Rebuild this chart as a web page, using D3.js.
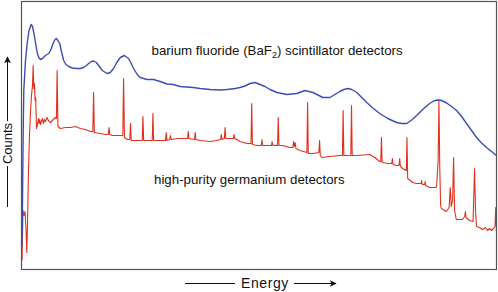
<!DOCTYPE html>
<html><head><meta charset="utf-8">
<script src="https://cdn.jsdelivr.net/npm/d3@7"></script>
<style>body{margin:0;background:#fff}svg{display:block}text{font-family:"Liberation Sans",Arial,Helvetica,sans-serif;fill:#111}</style>
</head><body><svg id="c" width="498" height="292"></svg>
<script>
// BaF2 scintillator spectrum (arbitrary energy channel, counts)
const blueEnergy = [0.5,1,1.7,2.3,4,5.7,7.5,9.7,11,12.3,14,15.7,17.3,19,21,24,27.3,29.5,31.7,33.5,35,36.5,38.3,40,42.3,44.5,47.3,51,55.7,59,62.3,65,67.3,70,72.3,75,77.3,81,85.7,89,92.3,95.5,99,103,107.3,110,112.3,116,119,125.7,132.3,139,145.7,152,159,172,179,189,199,206,214,219,224,229,234,239,244,249,256,266,276,280,284,288,292,297,302,309,314,319,323,327,331,336,341,346,352,359,367,376,381,386,391,396,402,409,413,417,421,426,431,436,441,446,451,456,461,466,471,476];
const blueCounts = [24,69,139,179,209,226,239,245,243,237,227,217,212,210,211,214,216,220,226,230,231,229,226,218,209,205,203,201.5,201,201,202,204,206,208,208.5,207,204,199,196,197,201,207,212,214,211,206,201,195,192,190,190,188,185.5,185,183,182,181,180,179.5,180,181,182,183.5,186,187,185,183,180,177,175,176,177.5,179,178,177,174.5,172,172,175,178,180,181,180,177,172,167,161.5,156,151,147,146,146,149.5,154,160,166,168.5,169.5,169,166.5,163,159,153,146,139,132,126.5,122,118,114];

// High-purity germanium spectrum
const redEnergy = [0.5,1.5,2.5,3.5,4.5,5.3,6,7,8,9,10,11,11.7,12.3,13,13.6,14.2,15,16,17,17.6,18.3,19,20,21,22,23,24,25.5,27,29,31,34,35,35.7,36.5,39,44,49,54,59,64,69,71.5,72.2,73,79,84,87,87.7,88.4,91,97,101.5,102.3,103.2,106,108.5,109.2,110,116,121,121.7,122.4,127,131,131.7,132.4,139,144.3,145,145.7,148.5,149.2,150,157,162,166.4,167.1,167.8,173.4,174.1,174.8,179,189,195,199.5,200.2,201,203.3,204,204.7,209,212.3,213,213.7,219,226,230,230.7,231.4,236,240.3,241,241.7,249,250.5,251.1,251.8,256.6,257.3,258,262,269,272,272.6,273.3,274.2,275,279,286,286.7,287.4,292,298,298.7,299.4,301,309,319,321.6,322.3,323,330,330.7,331.4,336,349,354,359,360,360.7,361.4,367,371,371.7,372.4,376,378.3,379,379.7,382,385.6,386.3,387,392,396,400.5,401,401.6,404,404.5,405,409,415,416,417.5,418.3,419.2,420,420.7,425.7,428.5,429.7,430.7,432,433,434,435.7,442,444.2,444.8,445.5,449,452.5,454,455,456,459,462,465,467,469,471,473,474.5,475.2,476];
const redCounts = [9,59,54,58,41,17,44,99,134,157,174,184,204,181,186,169,172,141,145,151,146,150,145,148,151,146,150,148,152,149,147,149,152,151,199,143,141,142,142,143,141,140,138,138,177,137,136,135,135,142,135,134,134,134,191,132,130,130,146,129,129,129,153,129,129,129,156,129,129,129,137,129,130,134,130,131,131,131,138,131,130,137,130,129,128,129,130,135,130,131,142,131,131,131,135,131,128,126,126,166,125,124,124,130,124,124,124,128,124,124,152,124,124,122,122,128,123,127,121,119,117,167,116,116,117,129,114,112,113,114,114,159,114,114,164,114,114,115,112,108,108,132,107,106,106,111,105,104,104,111,103,101,99,132,91,87,86,86,89,85,85,88,84,82,82,83,109,168,99,64,61,58,62,82,63,69,112,59,50,50,53,58,52,49,48,101,59,43,42,40,42,39,41,39,41,43,62,36];

const xDomain = [0, 476];
const yDomain = [0, 268];
const labels = {
  baf2: "barium fluoride (BaF",
  baf2Sub: "2",
  baf2End: ") scintillator detectors",
  hpge: "high-purity germanium detectors",
  xAxis: "Energy",
  yAxis: "Counts"
};

const svg = d3.select("#c");
const x = d3.scaleLinear().domain(xDomain).range([21.5, 496.5]);
const y = d3.scaleLinear().domain(yDomain).range([269.5, 1.5]);

const line = d3.line().x(d => x(d[0])).y(d => y(d[1]));

svg.append("path")
  .attr("d", line(d3.zip(redEnergy, redCounts)))
  .attr("fill", "none").attr("stroke", "#e2301f").attr("stroke-width", 1.1).attr("stroke-linejoin", "round");
svg.append("path")
  .attr("d", line(d3.zip(blueEnergy, blueCounts)))
  .attr("fill", "none").attr("stroke", "#3b4db4").attr("stroke-width", 1.4).attr("stroke-linejoin", "round");

// frame
svg.append("rect")
  .attr("x", x(xDomain[0])).attr("y", y(yDomain[1]))
  .attr("width", x(xDomain[1]) - x(xDomain[0])).attr("height", y(yDomain[0]) - y(yDomain[1]))
  .attr("fill", "none").attr("stroke", "#555").attr("stroke-width", 1.2);

// labels
const t1 = svg.append("text").attr("x", 151.5).attr("y", 55).attr("font-size", 13.3);
t1.append("tspan").text(labels.baf2);
t1.append("tspan").attr("font-size", 9).attr("dy", 3).text(labels.baf2Sub);
t1.append("tspan").attr("dy", -3).text(labels.baf2End);

svg.append("text").attr("x", 154).attr("y", 184).attr("font-size", 13.3).text(labels.hpge);

// axis titles with arrows
const defs = svg.append("defs");
defs.append("marker").attr("id", "ah").attr("viewBox", "0 0 10 10").attr("refX", 9).attr("refY", 5)
  .attr("markerWidth", 7).attr("markerHeight", 7).attr("markerUnits", "userSpaceOnUse").attr("orient", "auto")
  .append("path").attr("d", "M0,0 L10,5 L0,10 L2.5,5 Z").attr("fill", "#111");

svg.append("text").attr("x", 265).attr("y", 287.5).attr("font-size", 14).attr("letter-spacing", 0.6).attr("text-anchor", "middle").text(labels.xAxis);
svg.append("line").attr("x1", 185).attr("x2", 235).attr("y1", 283.5).attr("y2", 283.5).attr("stroke", "#111");
svg.append("line").attr("x1", 294).attr("x2", 336).attr("y1", 283.5).attr("y2", 283.5).attr("stroke", "#111").attr("marker-end", "url(#ah)");

svg.append("text").attr("transform", "translate(11.5,143.5) rotate(-90)").attr("font-size", 13).attr("text-anchor", "middle").text(labels.yAxis);
svg.append("line").attr("x1", 7.5).attr("x2", 7.5).attr("y1", 207).attr("y2", 166).attr("stroke", "#111");
svg.append("line").attr("x1", 7.5).attr("x2", 7.5).attr("y1", 121).attr("y2", 57).attr("stroke", "#111").attr("marker-end", "url(#ah)");
</script></body></html>
